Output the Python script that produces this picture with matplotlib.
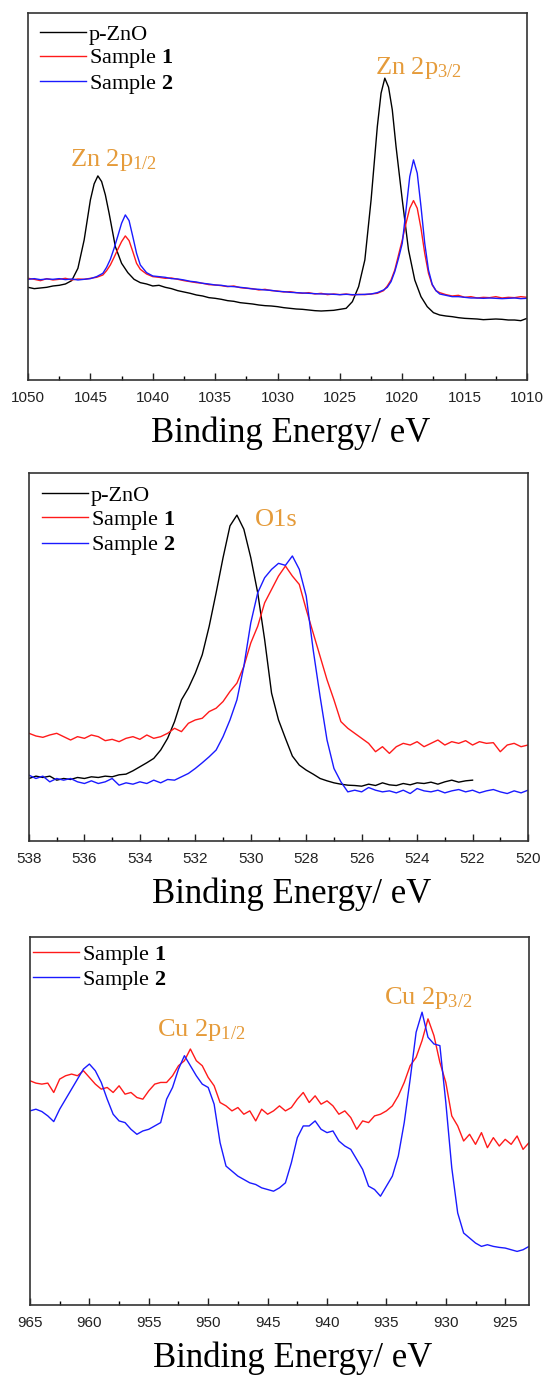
import numpy as np
import matplotlib.pyplot as plt
from matplotlib.ticker import MultipleLocator

plt.rcParams['font.family'] = 'Liberation Serif'
plt.rcParams['mathtext.fontset'] = 'custom'
plt.rcParams['mathtext.rm'] = 'Liberation Serif'
plt.rcParams['mathtext.bf'] = 'Liberation Serif:bold'
plt.rcParams['mathtext.it'] = 'Liberation Serif:italic'

ORANGE = '#E59B3A'

# ---- Zn 2p (intensity in arbitrary units) ----
zn_x_pzno = np.r_[np.linspace(1050, 1045, 11), [1044.7, 1044.4, 1044.1, 1043.8],
                  np.linspace(1043.5, 1022, 44), [1021.7, 1021.4, 1021.1, 1020.8],
                  np.linspace(1020.5, 1010, 22)]
zn_pzno = [278, 274, 276, 278, 282, 284, 288, 298, 335, 420, 540,
           588, 612, 595, 555,
           500, 400, 350, 322, 302, 292, 288, 282, 284, 278, 274, 268, 264, 260, 255,
           252, 247, 245, 242, 238, 236, 232, 230, 228, 225, 223, 222, 220, 217, 215,
           213, 212, 210, 208, 207, 208, 209, 212, 215, 235, 280, 360, 540, 760,
           860, 905, 878, 810,
           700, 540, 390, 300, 250, 220, 202, 195, 192, 190, 187, 185, 184, 183, 181,
           182, 183, 182, 180, 180, 178, 185]

zn_x_smp = np.r_[np.linspace(1050, 1044, 13),
                 [1043.7, 1043.4, 1043.1, 1042.8, 1042.5, 1042.2, 1041.9, 1041.6, 1041.3, 1041],
                 np.linspace(1040.5, 1021.5, 39),
                 [1021.2, 1020.9, 1020.6, 1020.3, 1020, 1019.7, 1019.4, 1019.1, 1018.8,
                  1018.5, 1018.2, 1017.9, 1017.6, 1017.3],
                 np.linspace(1017, 1010, 15)]
zn_s1 = [305, 302, 298, 304, 300, 302, 305, 300, 303, 302, 305, 308, 315,
         328, 345, 368, 392, 415, 432, 418, 385, 350, 332,
         318, 310, 308, 305, 306, 302, 298, 295, 292, 290, 286, 285, 283, 280, 282,
         277, 275, 274, 270, 272, 268, 267, 264, 265, 262, 260, 262, 258, 260, 256,
         258, 256, 258, 255, 257, 256, 258, 260, 268,
         282, 300, 330, 375, 420, 470, 515, 538, 515, 455, 380, 320, 285, 268,
         262, 256, 252, 254, 248, 250, 246, 248, 247, 250, 246, 248, 247, 250, 248]
zn_s2 = [302, 304, 301, 303, 302, 304, 301, 303, 300, 302, 304, 310, 320,
         338, 362, 395, 432, 470, 495, 478, 430, 380, 345,
         322, 312, 310, 308, 304, 303, 300, 296, 294, 290, 288, 285, 284, 281, 280,
         278, 276, 273, 272, 270, 269, 266, 265, 263, 262, 261, 260, 259, 258, 258,
         257, 256, 257, 256, 256, 257, 258, 262, 270,
         278, 295, 325, 365, 410, 510, 610, 660, 620, 520, 410, 330, 287, 268,
         258, 254, 250, 250, 248, 246, 246, 245, 246, 245, 244, 245, 246, 244, 245]

# ---- O 1s ----
o_x_pzno = np.linspace(538, 522, 65)
o_pzno = [187, 194, 190, 194, 182, 187, 184, 190, 187, 192, 190, 194, 192, 198, 200,
          210, 222, 234, 247, 272, 307, 357, 422, 457, 502, 557, 642, 742, 847, 942,
          974, 932, 847, 742, 602, 442, 362, 307, 254, 227, 212, 200, 187, 180, 174,
          170, 167, 166, 164, 170, 166, 174, 168, 166, 172, 168, 174, 172, 176, 170,
          177, 182, 176, 180, 182]
o_x_smp = np.linspace(538, 520, 73)
o_s1 = [322, 314, 310, 317, 322, 312, 302, 312, 307, 317,
        312, 300, 304, 297, 307, 312, 304, 317, 307, 312,
        322, 337, 327, 352, 362, 367, 387, 397, 417, 447,
        472, 522, 592, 642, 712, 752, 792, 822, 792, 767,
        692, 622, 552, 482, 422, 357, 337, 322, 307, 292,
        267, 282, 262, 282, 292, 287, 297, 282, 292, 302,
        287, 297, 292, 300, 287, 297, 292, 294, 267, 287,
        292, 282, 287]
o_s2 = [197, 187, 194, 177, 187, 182, 187, 177, 172, 180,
        172, 177, 187, 167, 174, 170, 177, 172, 182, 174,
        184, 182, 192, 202, 217, 234, 252, 272, 312, 362,
        422, 522, 652, 742, 787, 812, 830, 824, 852, 812,
        732, 572, 432, 302, 217, 177, 147, 152, 147, 160,
        152, 147, 150, 144, 152, 142, 157, 150, 147, 152,
        144, 150, 154, 147, 152, 144, 150, 154, 147, 142,
        150, 144, 152]

# ---- Cu 2p ----
cu_x = np.linspace(965, 923, 85)
cu_s1 = [670, 663, 660, 663, 635, 675, 685, 690, 685, 700,
         680, 660, 645, 650, 635, 655, 630, 635, 620, 615,
         640, 660, 665, 665, 685, 715, 730, 765, 730, 715,
         680, 655, 605, 595, 580, 590, 570, 580, 550, 585,
         570, 580, 595, 580, 590, 615, 635, 605, 625, 600,
         610, 595, 570, 580, 560, 525, 550, 545, 565, 570,
         580, 595, 625, 665, 715, 740, 790, 855, 805, 725,
         665, 565, 535, 490, 510, 480, 515, 470, 500, 475,
         495, 480, 505, 465, 485]
cu_s2 = [580, 585, 578, 565, 548, 585, 615, 645, 675, 705,
         720, 700, 665, 615, 570, 550, 545, 525, 510, 520,
         525, 535, 545, 615, 650, 705, 745, 715, 685, 660,
         650, 600, 485, 415, 400, 385, 375, 365, 360, 350,
         345, 340, 350, 365, 425, 500, 535, 535, 550, 525,
         515, 520, 490, 475, 465, 435, 405, 355, 345, 325,
         355, 385, 445, 545, 675, 815, 875, 800, 780, 775,
         605, 410, 275, 215, 200, 185, 175, 180, 175, 172,
         170, 165, 160, 165, 175]

fig = plt.figure(figsize=(5.44, 13.79), dpi=100)
rects = [[0.0515, 0.7244, 0.9173, 0.2661],
         [0.0533, 0.3901, 0.9173, 0.2669],
         [0.0551, 0.0537, 0.9173, 0.2669]]
axes = [fig.add_axes(r) for r in rects]


def style(ax, xlim, major, legend_xy):
    ax.set_xlim(*xlim)
    ax.set_ylim(0, 1100)
    ax.set_yticks([])
    ax.xaxis.set_major_locator(MultipleLocator(major))
    ax.xaxis.set_minor_locator(MultipleLocator(major / 2))
    ax.tick_params(axis='x', which='major', direction='in', length=5, width=1,
                   pad=8, labelsize=11, colors='#222222')
    ax.tick_params(axis='x', which='minor', direction='in', length=3, width=1)
    for lab in ax.get_xticklabels():
        lab.set_fontfamily('Liberation Sans')
    for s in ax.spines.values():
        s.set_linewidth(1.2)
        s.set_color('#333333')
    ax.set_xlabel('Binding Energy/ eV', fontsize=25, labelpad=8)
    ax.xaxis.label.set_x(0.526)
    ax.legend(loc='upper left', bbox_to_anchor=legend_xy, frameon=False,
              fontsize=16, handlelength=2.05, handletextpad=0.15,
              labelspacing=0.12, borderpad=0, borderaxespad=0)


ax = axes[0]
ax.plot(zn_x_pzno, zn_pzno, color='black', lw=1.0, label='p-ZnO')
ax.plot(zn_x_smp, zn_s1, color='#FF1A1A', lw=1.0, label='Sample $\\mathbf{1}$')
ax.plot(zn_x_smp, zn_s2, color='#1A1AFF', lw=1.0, label='Sample $\\mathbf{2}$')
ax.text(1046.6, 643, 'Zn 2p$_{\\mathrm{1/2}}$', color=ORANGE, fontsize=19)
ax.text(1022.2, 918, 'Zn 2p$_{\\mathrm{3/2}}$', color=ORANGE, fontsize=19)
style(ax, (1050, 1010), 5, (0.024, 0.97))

ax = axes[1]
ax.plot(o_x_pzno, o_pzno, color='black', lw=1.0, label='p-ZnO')
ax.plot(o_x_smp, o_s1, color='#FF1A1A', lw=1.0, label='Sample $\\mathbf{1}$')
ax.plot(o_x_smp, o_s2, color='#1A1AFF', lw=1.0, label='Sample $\\mathbf{2}$')
ax.text(529.85, 942, 'O1s', color=ORANGE, fontsize=19)
style(ax, (538, 520), 2, (0.026, 0.966))

ax = axes[2]
ax.plot(cu_x, cu_s1, color='#FF1A1A', lw=1.0, label='Sample $\\mathbf{1}$')
ax.plot(cu_x, cu_s2, color='#1A1AFF', lw=1.0, label='Sample $\\mathbf{2}$')
ax.text(954.3, 803, 'Cu 2p$_{\\mathrm{1/2}}$', color=ORANGE, fontsize=19)
ax.text(935.2, 900, 'Cu 2p$_{\\mathrm{3/2}}$', color=ORANGE, fontsize=19)
style(ax, (965, 923), 5, (0.006, 0.982))

fig.savefig('out.png', dpi=100)
